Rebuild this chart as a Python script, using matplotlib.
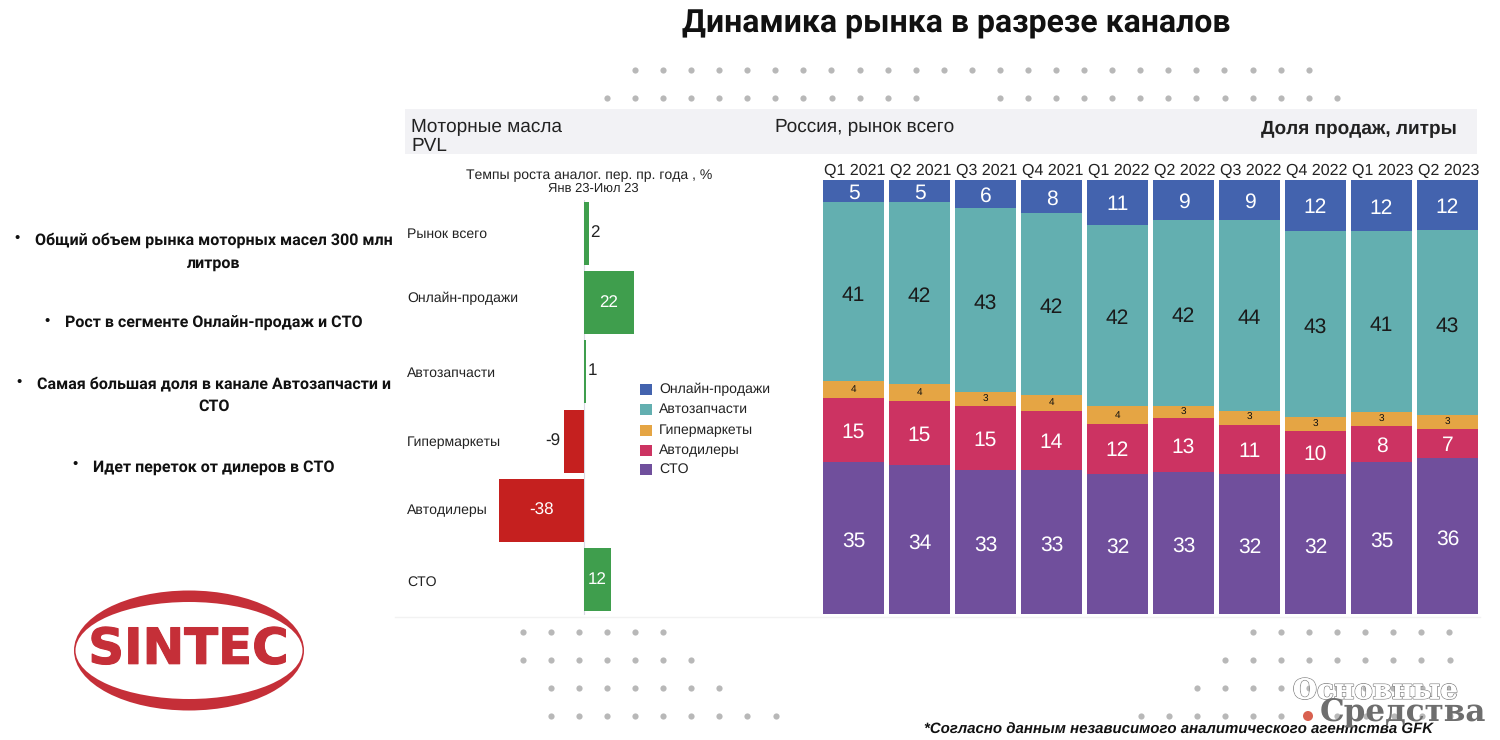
import numpy as np
import matplotlib
matplotlib.use("Agg")
import matplotlib.pyplot as plt
import matplotlib.patheffects as pe
from matplotlib.patches import Ellipse, Rectangle, Circle

plt.rcParams['font.family'] = ['Liberation Sans', 'DejaVu Sans']
plt.rcParams['text.hinting'] = 'no_hinting'
plt.rcParams['text.hinting_factor'] = 1
NARROW = 'Roboto'

# ---------- data ----------
growth_categories = ['Рынок всего', 'Онлайн-продажи', 'Автозапчасти', 'Гипермаркеты', 'Автодилеры', 'СТО']
growth_values = [2, 22, 1, -9, -38, 12]

quarters = ['Q1 2021', 'Q2 2021', 'Q3 2021', 'Q4 2021', 'Q1 2022', 'Q2 2022', 'Q3 2022', 'Q4 2022', 'Q1 2023', 'Q2 2023']
series_names = ['СТО', 'Автодилеры', 'Гипермаркеты', 'Автозапчасти', 'Онлайн-продажи']

sto_share = [35.0, 34.3, 33.2, 33.2, 32.3, 32.7, 32.3, 32.3, 35.0, 35.9]
dealers_share = [14.7, 14.7, 14.7, 13.6, 11.5, 12.4, 11.3, 9.9, 8.3, 6.7]
hyper_share = [3.9, 3.9, 3.2, 3.7, 4.1, 2.8, 3.2, 3.2, 3.2, 3.2]
parts_share = [41.3, 41.9, 42.4, 41.9, 41.7, 42.9, 44.0, 42.9, 41.7, 42.7]
online_share = [5.1, 5.2, 6.5, 7.6, 10.4, 9.2, 9.2, 11.7, 11.8, 11.5]

sto_labels = [35, 34, 33, 33, 32, 33, 32, 32, 35, 36]
dealers_labels = [15, 15, 15, 14, 12, 13, 11, 10, 8, 7]
hyper_labels = [4, 4, 3, 4, 4, 3, 3, 3, 3, 3]
parts_labels = [41, 42, 43, 42, 42, 42, 44, 43, 41, 43]
online_labels = [5, 5, 6, 8, 11, 9, 9, 12, 12, 12]

stack_values = [sto_share, dealers_share, hyper_share, parts_share, online_share]
stack_labels = [sto_labels, dealers_labels, hyper_labels, parts_labels, online_labels]
stack_colors = ['#704f9c', '#cc3362', '#e5a544', '#63afb0', '#4363ae']
label_colors = ['white', 'white', '#111111', '#1a1a1a', 'white']
label_sizes = [15, 15, 7.5, 15, 15]
label_shift = [0.8, 0.5, 0.0, 0.8, 0.6]

bullet_lines = [
    (240, 'Общий объем рынка моторных масел 300 млн'),
    (263, 'литров'),
    (323, 'Рост в сегменте Онлайн-продаж и СТО'),
    (384, 'Самая большая доля в канале Автозапчасти и'),
    (406, 'СТО'),
    (467, 'Идет переток от дилеров в СТО'),
]
W, H = 1500, 740
fig = plt.figure(figsize=(15, 7.4), dpi=100, facecolor='white')

# pixel-coordinate overlay for page furniture
bg = fig.add_axes([0, 0, 1, 1], zorder=0)
bg.set_xlim(0, W); bg.set_ylim(H, 0); bg.axis('off')
bg.add_patch(Rectangle((405, 109), 1072, 45, fc='#f2f2f5', ec='none'))
bg.plot([395, 1480], [617, 617], color='#f2f2f2', lw=1)

dot = '#b8b8b8'
rows = [(70, 635, 1310), (98, 607, 917), (98, 1000, 1338),
        (632, 523, 663), (660, 523, 691), (688, 551, 719), (716, 551, 775),
        (632, 1253, 1449), (660, 1225, 1449), (688, 1197, 1449), (716, 1141, 1449)]
for y, x0, x1 in rows:
    xs = np.arange(x0, x1 + 1, 28.07)
    bg.scatter(xs, [y] * len(xs), s=20, color=dot, linewidths=0)
bg.add_patch(Circle((1308, 716), 5, fc='#d9604f', ec='none'))

fig.text(956 / W, 1 - 24 / H, 'Динамика рынка в разрезе каналов', ha='center', va='center',
         fontsize=22.7, fontweight='bold', family=NARROW, color='#111111')

bg.text(411, 127, 'Моторные масла', fontsize=13.4, va='center', color='#222222')
bg.text(411, 146.5, 'PVL', fontsize=13.4, va='center', color='#222222')
bg.text(775, 127, 'Россия, рынок всего', fontsize=13.4, va='center', color='#222222')
bg.text(1457, 129, 'Доля продаж, литры', fontsize=13.4, fontweight='bold', ha='right', va='center', color='#222222')

for y, t in bullet_lines:
    bg.text(214, y, t, ha='center', va='center', fontsize=11.6, fontweight='bold', family=NARROW, color='#111111')
for x, y in [(17, 238), (47, 321), (19, 382), (75, 464)]:
    bg.text(x, y, '•', ha='center', va='center', fontsize=11, color='#111111')

bg.text(589, 175, 'Темпы роста аналог. пер. пр. года , %', ha='center', va='center', fontsize=10, color='#222222')
bg.text(593, 188.5, 'Янв 23-Июл 23', ha='center', va='center', fontsize=9.4, color='#222222')

# logo
red = '#c52f38'
bg.add_patch(Ellipse((189, 650.5), 230, 120, fc=red, ec='none'))
bg.add_patch(Ellipse((189, 650.5), 227, 97, fc='white', ec='none'))
bg.text(189, 650, 'SINTEC', ha='center', va='center', fontsize=35.8, fontweight='bold',
        family='DejaVu Sans', color=red,
        path_effects=[pe.withStroke(linewidth=0.8, foreground=red)])

# footnote & watermark
bg.text(1179, 730, '*Согласно данным независимого аналитического агентства GFK', ha='center', va='center',
        fontsize=11.0, fontweight='bold', style='italic', color='#111111')
bg.text(1376, 691, 'Основные', ha='center', va='center', fontsize=20, family='DejaVu Serif',
        color='white', zorder=5, fontweight='bold',
        path_effects=[pe.withStroke(linewidth=1.2, foreground='#8a8a8a'), pe.Normal()])
bg.text(1403, 712, 'Средства', ha='center', va='center', fontsize=22, family='DejaVu Serif',
        fontweight='bold', color='#6e6e6e', zorder=5)

# ---------- growth bars ----------
ax = fig.add_axes([400 / W, 1 - 615 / H, 410 / W, 415 / H], zorder=2)
ax.patch.set_alpha(0)
px = 2.25
ax.set_xlim((400 - 584) / px, (810 - 584) / px)
ypos = np.arange(len(growth_values))
ax.set_ylim(5 + (615 - 579.5) / 69.2, 0 - (233.5 - 200) / 69.2)
colors = ['#3f9e4d' if v > 0 else '#c5201f' for v in growth_values]
ax.barh(ypos, growth_values, height=0.91, color=colors, linewidth=0)
ax.axis('off')
ax.plot([0, 0], [ypos[0] - 0.5, ypos[-1] + 0.5], color='#d8d8e4', lw=0.8, zorder=0)
for i, v in enumerate(growth_values):
    if abs(v) >= 12:
        ax.text(v / 2, i, str(v), ha='center', va='center', color='white', fontsize=12)
    elif v > 0:
        ax.text(v + 0.8, i - 0.02, str(v), ha='left', va='center', color='#222222', fontsize=12)
    else:
        ax.text(v - 1.6, i, str(v), ha='right', va='center', color='#222222', fontsize=12)
label_y = [234.5, 298.5, 373.5, 442, 510, 582]
for name, y in zip(growth_categories, label_y):
    bg.text(407, y, name, ha='left', va='center', fontsize=10, color='#222222')

# legend
for i, n in enumerate(series_names[::-1]):
    yy = [389, 409, 430, 450, 469][i]
    bg.add_patch(Rectangle((640, yy - 5), 12, 11, fc=stack_colors[::-1][i], ec='none'))
    bg.text(659, yy + 0.5, n, ha='left', va='center', fontsize=10, color='#222222')

# ---------- stacked bars ----------
ax2 = fig.add_axes([820 / W, 1 - 614 / H, 660 / W, 435 / H], zorder=2)
ax2.patch.set_alpha(0)
x = np.arange(len(quarters))
ax2.set_xlim((820 - 853.5) / 66, (1480 - 853.5) / 66)
ax2.set_ylim(0, 100.2)
bottom = np.zeros(len(quarters))
for vals, labs, c, lc, ls, sh in zip(stack_values, stack_labels, stack_colors, label_colors, label_sizes, label_shift):
    vals = np.array(vals)
    ax2.bar(x, vals, bottom=bottom, width=0.925, color=c, linewidth=0)
    for xi, b, h, l in zip(x, bottom, vals, labs):
        ax2.text(xi, b + h / 2 - sh, str(l), ha='center', va='center', color=lc, fontsize=ls)
    bottom += vals
ax2.axis('off')
for xi, q in zip(x, quarters):
    ax2.text(xi + 0.02, 100.3, q, ha='center', va='bottom', fontsize=11.6, color='#222222', clip_on=False)

fig.savefig('out.png', dpi=100)
